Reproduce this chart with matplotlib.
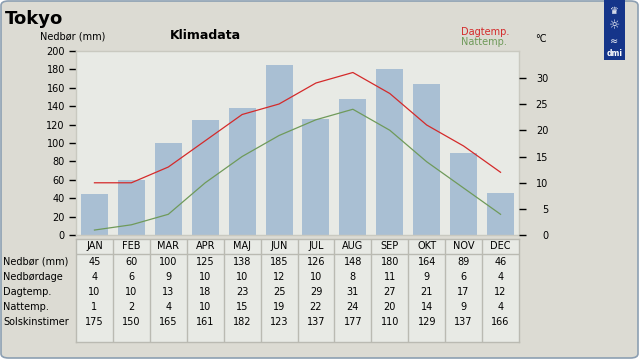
import matplotlib
matplotlib.use("Agg")
import matplotlib.pyplot as plt
from matplotlib.patches import FancyBboxPatch, Rectangle

months = ["JAN", "FEB", "MAR", "APR", "MAJ", "JUN", "JUL", "AUG", "SEP", "OKT", "NOV", "DEC"]
precip = [45, 60, 100, 125, 138, 185, 126, 148, 180, 164, 89, 46]
rain_days = [4, 6, 9, 10, 10, 12, 10, 8, 11, 9, 6, 4]
day_temp = [10, 10, 13, 18, 23, 25, 29, 31, 27, 21, 17, 12]
night_temp = [1, 2, 4, 10, 15, 19, 22, 24, 20, 14, 9, 4]
sun_hours = [175, 150, 165, 161, 182, 123, 137, 177, 110, 129, 137, 166]
row_labels = ["Nedbør (mm)", "Nedbørdage", "Dagtemp.", "Nattemp.", "Solskinstimer"]
left_ticks = list(range(0, 201, 20))
right_ticks = [0, 5, 10, 15, 20, 25, 30]

W, H = 640, 360
BG = "#dcdbd3"
PLOT_BG = "#e8eae5"
BAR = "#a9bfd3"
RED = "#d42a2a"
GREEN = "#6f9a5a"
GRID = "#babab2"

fig = plt.figure(figsize=(6.4, 3.6), dpi=100)
fig.patch.set_facecolor("white")

def fx(px):
    return px / W

def fy(py):
    return 1 - py / H

# rounded frame
frame = FancyBboxPatch((fx(1), fy(358)), fx(637), 357 / H,
                       boxstyle="round,pad=0,rounding_size=0.012",
                       transform=fig.transFigure, facecolor=BG,
                       edgecolor="#8c9fb2", linewidth=1.2, zorder=-10)
fig.patches.append(frame)

# main axes
L, R, T, B = 76, 519, 50.7, 235.3
ax = fig.add_axes([fx(L), fy(B), fx(R - L), (B - T) / H])
ax.set_facecolor(PLOT_BG)
x = list(range(12))
ax.bar(x, precip, width=0.73, color=BAR, zorder=2)
ax.set_xlim(-0.5, 11.5)
ax.set_ylim(0, 200)
ax.set_yticks(left_ticks)
ax.set_xticks([])
ax.tick_params(axis="y", length=5, width=1, labelsize=7, pad=3, colors="black")
for s in ax.spines.values():
    s.set_color("#c9c9c0")
    s.set_linewidth(1)

ax2 = ax.twinx()
ax2.plot(x, day_temp, color=RED, lw=0.9, zorder=3)
ax2.plot(x, night_temp, color=GREEN, lw=0.9, zorder=3)
ax2.set_ylim(0, 35.15)
ax2.set_yticks(right_ticks)
ax2.tick_params(axis="y", length=5, width=1, labelsize=7, pad=16, colors="black")
for lab in ax2.get_yticklabels():
    lab.set_horizontalalignment("right")
for s in ax2.spines.values():
    s.set_visible(False)

# table axes
TT, TB = 239, 342
tax = fig.add_axes([fx(L), fy(TB), fx(R - L), (TB - TT) / H])
tax.set_facecolor(PLOT_BG)
tax.set_xlim(-0.5, 11.5)
tax.set_ylim(TB, TT)
tax.set_xticks([])
tax.set_yticks([])
for s in tax.spines.values():
    s.set_color(GRID)
    s.set_linewidth(1)
for i in range(1, 12):
    tax.axvline(i - 0.5, color=GRID, lw=1)
tax.axhline(254, color=GRID, lw=1)

rows = [precip, rain_days, day_temp, night_temp, sun_hours]
row_y = [261.7, 276.7, 291.7, 306.7, 321.7]
for i, m in enumerate(months):
    tax.text(i, 246.5, m, ha="center", va="center", fontsize=7)
    for r, yy in zip(rows, row_y):
        tax.text(i, yy, str(r[i]), ha="center", va="center", fontsize=7)
for lab, yy in zip(row_labels, row_y):
    fig.text(fx(3), fy(yy), lab, ha="left", va="center", fontsize=7)

# titles
fig.text(fx(5), fy(18.5), "Tokyo", ha="left", va="center", fontsize=13, fontweight="bold")
fig.text(fx(170), fy(35.5), "Klimadata", ha="left", va="center", fontsize=9, fontweight="bold")
fig.text(fx(40.5), fy(36.5), "Nedbør (mm)", ha="left", va="center", fontsize=7)
fig.text(fx(460.5), fy(32), "Dagtemp.", ha="left", va="center", fontsize=7, color=RED)
fig.text(fx(460.5), fy(42), "Nattemp.", ha="left", va="center", fontsize=7, color=GREEN)
fig.text(fx(535), fy(39), "°C", ha="left", va="center", fontsize=7)

# DMI logo
logo = Rectangle((fx(604), fy(60)), fx(21), 60 / H, transform=fig.transFigure,
                 facecolor="#15358a", edgecolor="none", zorder=5)
fig.patches.append(logo)
fig.text(fx(614.5), fy(11), "♛", ha="center", va="center", fontsize=7, color="white", zorder=6)
fig.text(fx(614.5), fy(26), "☼", ha="center", va="center", fontsize=9, color="white", zorder=6)
fig.text(fx(614.5), fy(41), "≈", ha="center", va="center", fontsize=7, color="white", zorder=6)
fig.text(fx(614.5), fy(53), "dmi", ha="center", va="center", fontsize=5.5, color="white",
         fontweight="bold", zorder=6)

fig.savefig("out.png", dpi=100, facecolor=fig.get_facecolor())
